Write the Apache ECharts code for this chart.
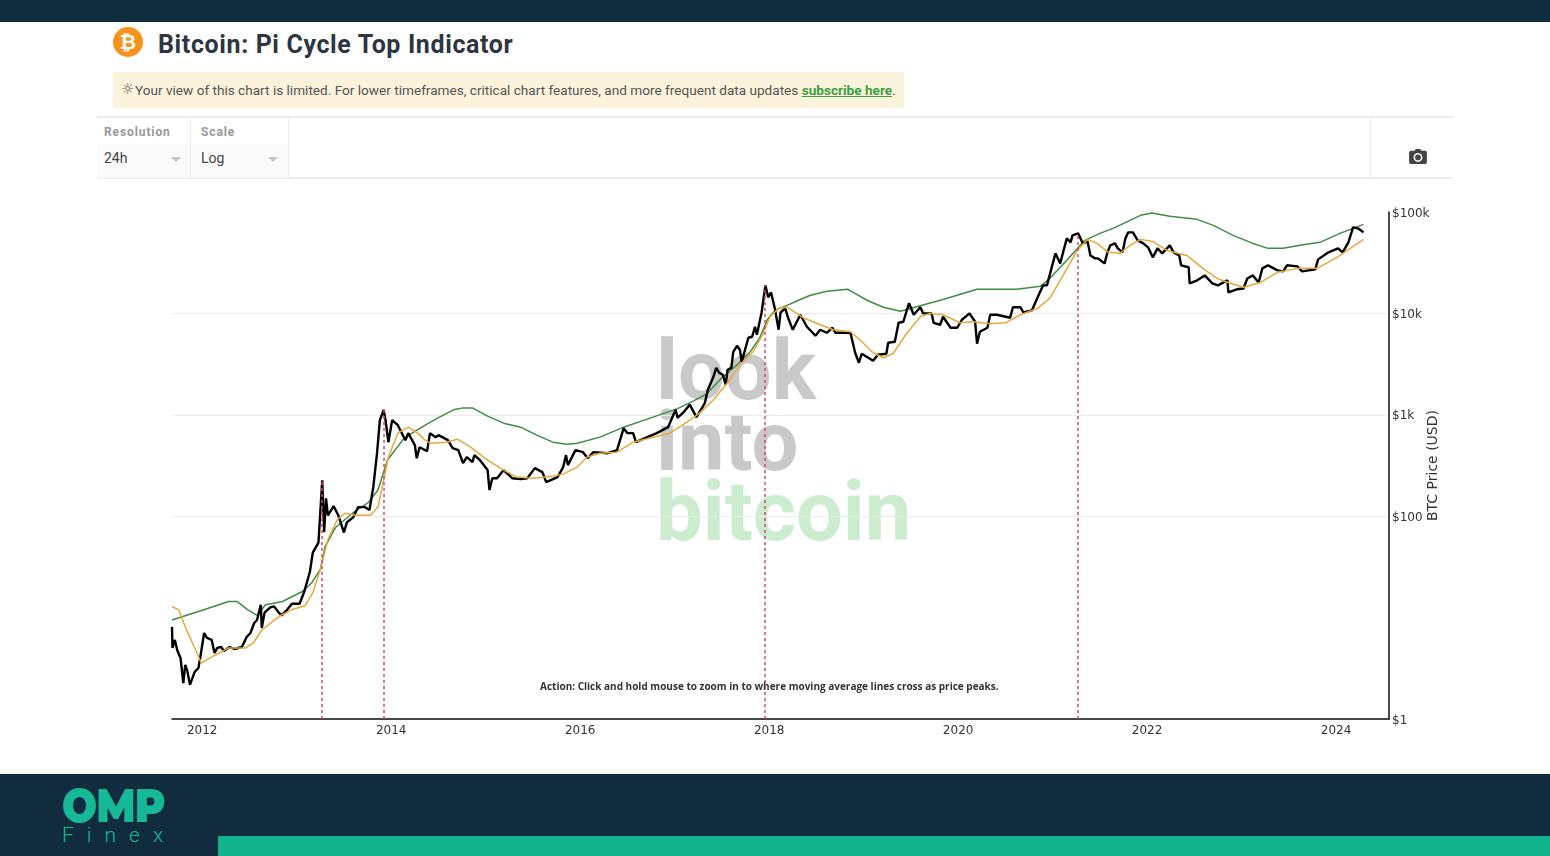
<!DOCTYPE html>
<html>
<head>
<meta charset="utf-8">
<title>Bitcoin: Pi Cycle Top Indicator</title>
<script src="https://cdn.jsdelivr.net/npm/echarts@6/dist/echarts.min.js"></script>
<style>
html, body { margin: 0; padding: 0; width: 1550px; height: 856px; overflow: hidden; background: #fff; font-family: Roboto, sans-serif; }
.abs { position: absolute; }
#topbar { left: 0; top: 0; width: 1550px; height: 22px; background: #112c3f; }
#footer { left: 0; top: 774px; width: 1550px; height: 82px; background: #112c3f; }
#footbar { left: 218px; top: 836px; width: 1332px; height: 20px; background: #11b48d; }
#omp { left: 62px; top: 781px; font: 900 47px/50px Montserrat, Roboto, sans-serif; color: #17b896; letter-spacing: -1px; transform: scaleX(0.88); transform-origin: left center; }
#finex { left: 62px; top: 823px; font: 300 21px/24px Roboto, sans-serif; color: #17b896; letter-spacing: 13px; }
#coin { left: 113px; top: 27px; width: 30px; height: 30px; border-radius: 50%; background: #f7931a; color: #fff; text-align: center; font: 700 20px/30px "DejaVu Sans", sans-serif; }
#title { left: 158px; top: 29px; font: 700 25px/32px Roboto, sans-serif; color: #2d3640; letter-spacing: 0.62px; }
#notice { left: 113px; top: 72px; width: 791px; height: 36px; background: #fcf3dc; font: 400 13.6px/36px Roboto, sans-serif; color: #555; white-space: nowrap; }
#notice .sun { position: absolute; left: 8px; top: 0; font: 400 15px/35px "DejaVu Sans", sans-serif; }
#notice .msg { position: absolute; left: 22px; top: 0; }
#notice a { color: #3b9e3f; font-weight: 700; text-decoration: underline; }
.hline { left: 97px; width: 1356px; height: 2px; background: #ececec; }
.vline { top: 118px; width: 1px; height: 60px; background: #ececec; }
.ctl { top: 144px; height: 34px; background: #fafafa; }
.ctl-label { top: 124px; font: 700 12px/16px Roboto, sans-serif; color: #999; letter-spacing: 0.9px; }
.ctl-value { top: 149px; font: 400 14px/18px Roboto, sans-serif; color: #444; }
.arrow { top: 157px; width: 0; height: 0; border-left: 5px solid transparent; border-right: 5px solid transparent; border-top: 5px solid #c4c4c4; }
#camera { left: 1409px; top: 149px; }
#chart { left: 0; top: 190px; width: 1550px; height: 580px; }
</style>
</head>
<body>
<div class="abs" id="topbar"></div>
<div class="abs" id="coin">₿</div>
<div class="abs" id="title">Bitcoin: Pi Cycle Top Indicator</div>
<div class="abs" id="notice"><span class="sun">☼</span><span class="msg">Your view of this chart is limited. For lower timeframes, critical chart features, and more frequent data updates <a>subscribe here</a>.</span></div>
<div class="abs hline" style="top:116px"></div>
<div class="abs hline" style="top:177px"></div>
<div class="abs ctl" style="left:97px;width:93px"></div>
<div class="abs ctl" style="left:191px;width:97px"></div>
<div class="abs vline" style="left:190px"></div>
<div class="abs vline" style="left:288px"></div>
<div class="abs vline" style="left:1370px"></div>
<div class="abs ctl-label" style="left:104px">Resolution</div>
<div class="abs ctl-label" style="left:201px">Scale</div>
<div class="abs ctl-value" style="left:104px">24h</div>
<div class="abs ctl-value" style="left:201px">Log</div>
<div class="abs arrow" style="left:171px"></div>
<div class="abs arrow" style="left:268px"></div>
<svg class="abs" id="camera" width="18" height="16" viewBox="0 0 20 18">
  <path fill="#444" d="M6 2 L7.5 0 H12.5 L14 2 H18 Q20 2 20 4 V15 Q20 17 18 17 H2 Q0 17 0 15 V4 Q0 2 2 2 Z"/>
  <circle cx="10" cy="9.5" r="5" fill="#fff"/><circle cx="10" cy="9.5" r="3.2" fill="#444"/>
</svg>
<div class="abs" id="chart"></div>
<div class="abs" id="footer"></div>
<div class="abs" id="footbar"></div>
<div class="abs" id="omp">OMP</div>
<div class="abs" id="finex">Finex</div>

<script>
const priceYears = [2011.68,2011.685,2011.71,2011.735,2011.77,2011.80,2011.82,2011.84,2011.87,2011.92,2011.96,2011.98,2012.02,2012.05,2012.10,2012.13,2012.16,2012.20,2012.23,2012.29,2012.34,2012.42,2012.47,2012.51,2012.55,2012.58,2012.62,2012.63,2012.66,2012.72,2012.76,2012.81,2012.84,2012.90,2012.95,2013.03,2013.08,2013.14,2013.17,2013.23,
2013.27,2013.29,2013.31,2013.33,2013.39,2013.44,2013.50,2013.53,2013.60,2013.65,2013.72,2013.77,2013.81,2013.85,2013.88,2013.92,2013.94,2013.97,2014.01,2014.07,2014.15,2014.18,2014.25,2014.27,2014.30,2014.38,2014.41,2014.47,2014.50,2014.60,2014.65,2014.71,2014.76,2014.80,2014.86,2014.88,2014.94,2015.02,2015.04,2015.07,2015.12,
2015.19,2015.28,2015.37,2015.44,2015.52,2015.60,2015.64,2015.76,2015.82,2015.85,2015.87,2015.95,2016.03,2016.08,2016.14,2016.29,2016.39,2016.46,2016.50,2016.56,2016.59,2016.71,2016.81,2016.93,
2017.01,2017.03,2017.09,2017.16,2017.23,2017.29,2017.32,2017.35,2017.41,2017.44,2017.47,2017.51,2017.54,2017.56,2017.60,2017.62,2017.66,2017.69,2017.71,2017.78,2017.82,2017.85,2017.87,2017.92,2017.96,2017.99,2018.02,2018.06,2018.10,2018.12,2018.17,2018.20,2018.25,2018.33,2018.40,2018.49,2018.54,
2018.61,2018.67,2018.70,2018.86,2018.91,2018.95,2018.98,2019.10,2019.15,2019.24,2019.26,2019.33,2019.37,2019.42,2019.48,2019.53,2019.60,2019.63,2019.72,2019.74,2019.81,2019.84,2019.92,2019.99,2020.04,2020.12,2020.18,2020.20,2020.23,2020.31,2020.34,2020.41,2020.55,2020.58,2020.66,2020.69,2020.78,2020.85,2020.90,2020.94,2021.03,2021.08,2021.15,2021.19,2021.21,2021.27,2021.32,2021.37,
2021.40,2021.45,2021.48,2021.55,2021.58,2021.61,2021.66,2021.69,2021.74,2021.77,2021.80,2021.85,2021.90,2021.96,2022.01,2022.06,2022.11,2022.16,2022.24,2022.28,2022.34,2022.36,2022.44,2022.45,2022.53,2022.61,2022.69,2022.75,2022.85,2022.86,2022.95,2023.02,2023.06,2023.12,2023.18,2023.22,2023.28,
2023.38,2023.44,2023.48,2023.59,2023.64,2023.78,2023.81,2023.92,2024.02,2024.07,2024.13,2024.18,2024.23,2024.29];
const priceValues = [8.1,5.02,6.02,4.79,4,2.26,3.41,3.05,2.17,2.91,3.19,4.09,7.05,6.3,6.02,4.48,5.02,5.13,4.69,5.13,4.9,5.13,6.44,7.05,8.85,9.48,13.4,7.9,11.2,12.6,12.9,11.2,10.5,12,13.7,13.7,18.1,28.5,43.8,54.9,
226,69.4,150,102,126,102,69,87,98,123,123,115,193,418,885,1120,885,537,885,790,562,659,502,373,479,438,659,602,630,562,469,448,334,382,341,400,357,285,181,237,237,
285,237,232,237,298,272,217,243,305,400,319,448,428,373,428,418,448,738,659,659,537,602,659,755,
1120,935,1050,1260,948,1170,1310,1760,2370,2910,2600,2480,1980,2780,2910,4180,4790,4380,3340,5750,5880,7380,6160,10200,18900,14400,16100,11200,6900,10200,11200,9060,6900,9700,7380,6020,6900,
6440,7220,6440,6440,4090,3260,4000,3410,3910,4000,5130,5250,8080,8270,12600,9700,11500,10000,10000,8080,7730,9270,7220,7220,8660,10000,8270,5020,6590,7220,9700,9700,9060,11500,11500,10200,10700,15000,18900,18900,39100,31100,54900,50200,58800,61600,49000,51300,
37300,34900,34900,31100,40000,46900,49000,43800,40000,54900,63000,63000,52500,49000,44800,35700,43800,39100,46900,40000,37300,29800,28500,19800,21200,23700,19800,18900,21200,16100,17300,17600,22100,23700,20200,27800,29800,
26600,26000,29800,29100,26000,27200,34100,40000,43800,40000,50200,70500,69000,63000];

const greenYears = [2011.68,2011.96,2012.28,2012.37,2012.48,2012.58,2012.67,2012.85,2013.06,2013.16,2013.25,2013.30,2013.41,2013.59,2013.76,2013.86,2013.96,2014.12,2014.22,2014.36,2014.49,2014.66,2014.76,2014.86,2015.02,2015.19,2015.37,2015.54,2015.71,2015.86,2015.97,2016.21,2016.46,2016.77,2017.03,2017.20,2017.34,2017.50,2017.66,2017.80,2017.90,2017.98,2018.06,2018.19,2018.33,2018.43,2018.61,2018.83,2018.89,2019.04,2019.21,2019.39,2019.57,2019.84,2020.20,2020.44,2020.62,2020.87,2020.97,2021.15,2021.34,2021.50,2021.64,2021.93,2022.05,2022.24,2022.53,2022.70,2022.91,2023.12,2023.28,2023.44,2023.62,2023.83,2024.04,2024.18,2024.29];
const greenValues = [9.48,11.5,14.4,14.4,12,10.5,13.4,14.4,18.1,22.1,29.8,50.2,77.3,107,137,181,357,562,659,790,927,1120,1170,1170,970,827,755,630,537,513,525,602,755,948,1150,1370,1610,2320,3110,4180,5750,8660,10700,12000,13700,15000,16500,17300,16100,13400,11500,10500,11700,13700,17300,17300,17300,18500,22100,33400,52500,61600,69000,92700,97700,90600,84600,73800,58800,49000,43800,43800,46900,50200,61600,69000,75500];

const orangeYears = [2011.68,2011.75,2011.82,2011.93,2011.99,2012.14,2012.28,2012.46,2012.54,2012.63,2012.74,2012.83,2012.95,2013.09,2013.17,2013.25,2013.33,2013.43,2013.51,2013.62,2013.78,2013.86,2013.92,2013.97,2014.07,2014.18,2014.28,2014.36,2014.41,2014.59,2014.70,2014.84,2015.02,2015.19,2015.33,2015.50,2015.71,2015.82,2015.97,2016.07,2016.21,2016.39,2016.56,2016.77,2016.95,2017.13,2017.27,2017.41,2017.56,2017.69,2017.83,2017.94,2018.01,2018.10,2018.19,2018.36,2018.54,2018.68,2018.86,2018.96,2019.10,2019.21,2019.31,2019.46,2019.60,2019.70,2019.84,2020.02,2020.16,2020.34,2020.50,2020.66,2020.84,2020.97,2021.08,2021.26,2021.37,2021.47,2021.59,2021.71,2021.82,2021.93,2022.06,2022.21,2022.42,2022.59,2022.74,2022.88,2023.02,2023.20,2023.38,2023.59,2023.80,2024.01,2024.15,2024.29];
const orangeValues = [12.8,12,8.1,4.79,3.57,4.28,5.02,5.02,5.62,7.55,9.06,10.5,12,13.1,17.6,29.8,58.8,92.7,107,102,102,123,226,382,659,755,659,562,525,537,575,479,357,285,243,237,248,260,305,382,418,428,537,602,659,846,1050,1410,2070,3110,4180,6440,9270,11200,11500,9060,7730,6900,6590,5490,4090,3650,4000,6440,9270,10000,9700,8080,8270,7900,8080,9700,11200,14100,21200,41800,53700,49000,40000,39100,46900,53700,51300,41800,37300,27800,22100,19800,18100,20200,25400,27800,27800,35700,43800,53700];

const peakYears = [2013.26, 2013.92, 2017.95, 2021.27];
const peakTops = [226, 1120, 18900, 61600];

const xTicks = [2012, 2014, 2016, 2018, 2020, 2022, 2024];
const yTicks = [1, 100, 1000, 10000, 100000];
const yTickLabels = ['$1', '$100', '$1k', '$10k', '$100k'];

const zip = (xs, ys) => xs.map((x, i) => [x, ys[i]]);
const chart = echarts.init(document.getElementById('chart'));

const axisFont = 'DejaVu Sans';
chart.setOption({
    animation: false,
    grid: { left: 172, width: 1217, top: 22, height: 507 },
    graphic: [
        { type: 'text', z: -1, x: 656, y: 147, style: { text: 'look', font: '700 83px Roboto', fill: '#c9c9c9' } },
        { type: 'text', z: -1, x: 656, y: 218, style: { text: 'into', font: '700 83px Roboto', fill: '#c9c9c9' } },
        { type: 'text', z: -1, x: 656, y: 288, style: { text: 'bitcoin', font: '700 83px Roboto', fill: '#cbeccd' } },
        { type: 'text', z: 10, x: 540, y: 492, style: { text: 'Action: Click and hold mouse to zoom in to where moving average lines cross as price peaks.', font: '700 10px "Open Sans"', fill: '#333' } }
    ],
    xAxis: {
        type: 'value',
        min: 2011.68,
        max: 2024.56,
        splitLine: { show: false },
        axisLine: { lineStyle: { color: '#111', width: 1.5 } },
        axisTick: { show: false },
        axisLabel: { customValues: xTicks, color: '#333', fontFamily: axisFont, fontSize: 12, margin: 6, formatter: v => String(v) }
    },
    yAxis: {
        type: 'log',
        logBase: 10,
        min: 1,
        max: 100000,
        position: 'right',
        name: 'BTC Price (USD)',
        nameLocation: 'middle',
        nameRotate: 90,
        nameGap: 37,
        nameMoveOverlap: false,
        nameTextStyle: { color: '#333', fontFamily: axisFont, fontSize: 14 },
        axisLine: { show: true, lineStyle: { color: '#111', width: 1.5 } },
        axisTick: { show: false, customValues: yTicks },
        splitLine: { show: true, showMaxLine: false, lineStyle: { color: '#ebebeb', width: 1 } },
        axisLabel: {
            customValues: yTicks, margin: 3,
            formatter: v => '{t|' + yTickLabels[yTicks.indexOf(Math.round(v))] + '}',
            rich: { t: { color: '#333', fontFamily: axisFont, fontSize: 12, padding: [3, 0, 0, 0] } }
        }
    },
    series: [
        {
            name: 'Peaks', type: 'line', data: [], symbol: 'none',
            markLine: {
                silent: true, symbol: 'none', label: { show: false },
                lineStyle: { color: '#d9476a', type: [3, 3], width: 1.5 },
                data: peakYears.map((x, i) => [{ coord: [x, 1] }, { coord: [x, peakTops[i]] }])
            }
        },
        { name: '350 DMA x 2', type: 'line', data: zip(greenYears, greenValues), symbol: 'none', lineStyle: { color: '#3f8c45', width: 1.5 } },
        { name: 'Price', type: 'line', data: zip(priceYears, priceValues), symbol: 'none', lineStyle: { color: '#000', width: 2.4 } },
        { name: '111 DMA', type: 'line', data: zip(orangeYears, orangeValues), symbol: 'none', lineStyle: { color: '#e6a93c', width: 1.5 } }
    ]
});
</script>
</body>
</html>
